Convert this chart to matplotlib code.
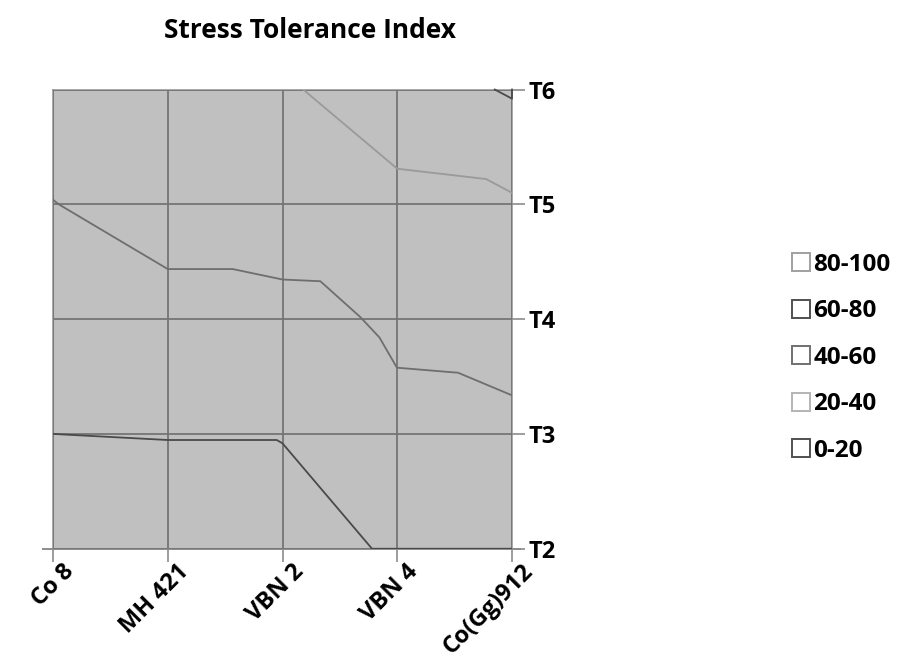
import numpy as np
import matplotlib.pyplot as plt
import matplotlib.transforms as mtransforms
from matplotlib.lines import Line2D

plt.rcParams['font.family'] = ['Open Sans', 'DejaVu Sans']
plt.rcParams['font.weight'] = 'bold'

genotypes = ['Co 8', 'MH 421', 'VBN 2', 'VBN 4', 'Co(Gg)912']
treatments = ['T2', 'T3', 'T4', 'T5', 'T6']
bands = ['80-100', '60-80', '40-60', '20-40', '0-20']
band_cols = ['#a0a0a0', '#505050', '#707070', '#b4b4b4', '#505050']

# contour paths (x = genotype index, y = treatment index)
c20_x = [0, 1.0, 1.95, 2.0, 2.78, 4.0]
c20_y = [1.0, 0.947, 0.947, 0.918, 0.0, 0.0]
c40_x = [0, 0.05, 1.0, 1.566, 2.0, 2.33, 2.68, 2.845, 2.997, 3.53, 4.0]
c40_y = [3.04, 3.0, 2.436, 2.436, 2.345, 2.33, 2.016, 1.84, 1.577, 1.533, 1.336]
c60_x = [2.18, 3.0, 3.775, 4.0]
c60_y = [4.0, 3.31, 3.22, 3.10]
c80_x = [3.85, 4.0, 4.0]
c80_y = [4.0, 3.92, 4.0]

fig = plt.figure(figsize=(9, 6.7), dpi=100)
ax = fig.add_axes([0.0589, 0.181, 0.51, 0.6854])
ax.set_facecolor('#c0c0c0')

ax.set_xlim(0, 4)
ax.set_ylim(0, 4)
ax.set_xticks(range(len(genotypes)))
ax.set_xticklabels(genotypes, rotation=45, ha='right', va='top',
                   rotation_mode='anchor', fontsize=17, fontweight='bold')
ax.set_yticks(range(len(treatments)))
ax.set_yticklabels(treatments, fontsize=17, fontweight='bold')
ax.yaxis.tick_right()
ax.tick_params(axis='x', length=9, width=1.2, color='#8c8c8c', pad=-1)
ax.tick_params(axis='y', length=9, width=1.2, color='#8c8c8c', pad=3)
# nudge the slanted labels to the right like in Excel
shift = mtransforms.ScaledTranslation(9 / 100, 0, fig.dpi_scale_trans)
for lbl in ax.get_xticklabels():
    lbl.set_transform(lbl.get_transform() + shift)
ax.grid(True, color='#757575', linewidth=1.3)
ax.set_axisbelow(False)

for s in ['top', 'left', 'right']:
    ax.spines[s].set_color('#999999')
    ax.spines[s].set_linewidth(1.2)
ax.spines['bottom'].set_color('#8c8c8c')
ax.spines['bottom'].set_linewidth(1.4)
ax.spines['bottom'].set_bounds(-0.09, 4.07)

ax.plot(c20_x, c20_y, color='#4a4a4a', lw=1.3, zorder=3)
ax.plot(c40_x, c40_y, color='#6e6e6e', lw=1.3, zorder=3)
ax.plot(c60_x, c60_y, color='#9a9a9a', lw=1.3, zorder=3)
ax.plot(c80_x, c80_y, color='#4a4a4a', lw=1.3, zorder=3, clip_on=False)

handles = [Line2D([], [], marker='s', linestyle='none', markersize=12.5,
                  markerfacecolor='white', markeredgecolor=c, markeredgewidth=1.4)
           for c in band_cols]
leg = fig.legend(handles, bands, loc='center left', bbox_to_anchor=(0.855, 0.466),
                 frameon=False, labelspacing=0.93, handletextpad=0.1,
                 handlelength=0.8, prop={'size': 17.5, 'weight': 'bold'})

fig.text(0.344, 0.955, 'Stress Tolerance Index', ha='center', va='center',
         fontsize=19, fontweight='bold')

fig.savefig('out.png', dpi=100)
